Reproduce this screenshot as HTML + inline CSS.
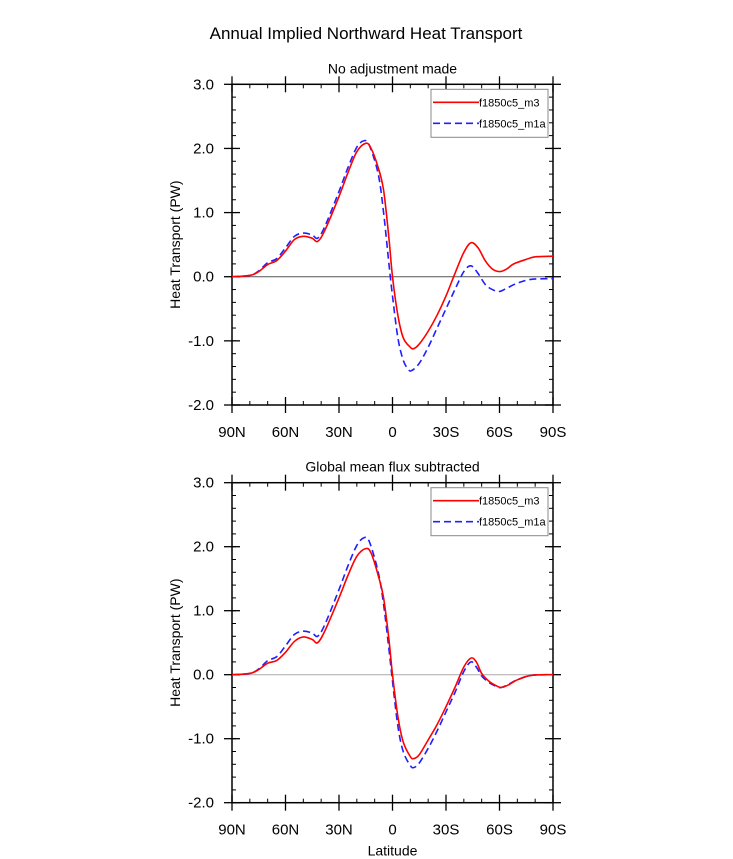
<!DOCTYPE html>
<html><head><meta charset="utf-8"><style>
html,body{margin:0;padding:0;background:#fff;}
svg{display:block;font-family:"Liberation Sans",Arial,sans-serif;}
</style></head><body>
<svg id="chart" width="733" height="859" viewBox="0 0 733 859" xmlns="http://www.w3.org/2000/svg">
<text x="366" y="39" font-size="17" text-anchor="middle">Annual Implied Northward Heat Transport</text>
</svg>
<script>
const lats1 = [90,80,75,70,65,60,55,50,45,42,38,30,25,20,15,12,8,5,2,0,-3,-6,-10,-12,-15,-20,-25,-30,-35,-40,-44,-48,-52,-56,-60,-64,-68,-75,-80,-90];
const red1 = [0,0.02,0.08,0.19,0.25,0.4,0.58,0.63,0.6,0.55,0.72,1.25,1.62,1.95,2.08,2.0,1.7,1.35,0.6,0.0,-0.6,-0.95,-1.1,-1.12,-1.05,-0.85,-0.6,-0.3,0.05,0.38,0.53,0.45,0.25,0.12,0.08,0.12,0.2,0.27,0.31,0.32];
const latsB1 = [90,80,75,70,65,60,55,50,45,42,38,30,25,20,16,13,8,5,2,0,-3,-6,-9,-11,-15,-20,-25,-30,-35,-40,-44,-48,-52,-56,-60,-64,-70,-78,-90];
const blue1 = [0,0.02,0.09,0.22,0.28,0.45,0.63,0.68,0.65,0.6,0.78,1.33,1.7,2.02,2.12,2.05,1.6,1.0,0.2,-0.3,-0.95,-1.3,-1.45,-1.46,-1.35,-1.1,-0.8,-0.5,-0.2,0.08,0.17,0.05,-0.12,-0.2,-0.23,-0.18,-0.1,-0.04,-0.03];
const lats2 = [90,80,75,70,65,60,55,50,45,42,38,30,25,20,15,12,8,5,2,0,-3,-6,-10,-12,-15,-20,-25,-30,-35,-40,-44,-47,-50,-54,-58,-61,-65,-70,-78,-90];
const red2 = [0,0.02,0.08,0.18,0.22,0.35,0.52,0.59,0.55,0.5,0.68,1.2,1.55,1.85,1.97,1.9,1.55,1.2,0.55,0,-0.65,-1.05,-1.28,-1.31,-1.25,-1.02,-0.78,-0.5,-0.2,0.12,0.26,0.2,0.02,-0.1,-0.17,-0.2,-0.16,-0.08,-0.01,0];
const latsB2 = [90,80,75,70,65,60,55,50,45,42,38,30,25,20,16,13,8,5,2,0,-3,-6,-10,-12,-15,-20,-25,-30,-35,-40,-44,-47,-50,-54,-58,-61,-65,-70,-78,-90];
const blue2 = [0,0.02,0.09,0.22,0.28,0.45,0.63,0.68,0.65,0.6,0.78,1.33,1.7,2.02,2.14,2.08,1.6,1.1,0.4,-0.1,-0.8,-1.2,-1.42,-1.45,-1.38,-1.15,-0.88,-0.58,-0.28,0.05,0.2,0.12,-0.02,-0.12,-0.18,-0.2,-0.15,-0.08,-0.01,0];
const xTickVals = [90,60,30,0,-30,-60,-90];
const xTickLabels = ["90N","60N","30N","0","30S","60S","90S"];
const yTickVals = [3,2,1,0,-1,-2];
const yTickLabels = ["3.0","2.0","1.0","0.0","-1.0","-2.0"];

const NS="http://www.w3.org/2000/svg";
const svg=document.getElementById('chart');
function mk(tag,attrs,parent){const e=document.createElementNS(NS,tag);for(const k in attrs)e.setAttribute(k,attrs[k]);(parent||svg).appendChild(e);return e;}

function smooth(pts){
  let d=`M${pts[0][0].toFixed(2)},${pts[0][1].toFixed(2)}`;
  for(let i=0;i<pts.length-1;i++){
    const p0=pts[Math.max(0,i-1)],p1=pts[i],p2=pts[i+1],p3=pts[Math.min(pts.length-1,i+2)];
    const c1=[p1[0]+(p2[0]-p0[0])/6,p1[1]+(p2[1]-p0[1])/6];
    const c2=[p2[0]-(p3[0]-p1[0])/6,p2[1]-(p3[1]-p1[1])/6];
    d+=`C${c1[0].toFixed(2)},${c1[1].toFixed(2)} ${c2[0].toFixed(2)},${c2[1].toFixed(2)} ${p2[0].toFixed(2)},${p2[1].toFixed(2)}`;
  }
  return d;
}

function panel(name,top,bottom,subtitle,zeroColor,rl,rv,bl,bv,showXTitle){
  const L=232,R=553;
  const g=mk('g',{});
  
  
  const xs=v=>L+(90-v)/180*(R-L);
  const ys=v=>top+(3-v)/5*(bottom-top);
  const st=mk('text',{x:(L+R)/2,y:top-11,'font-size':14,'text-anchor':'middle'},g);
  
  
  st.textContent=subtitle;
  const zl=mk('line',{x1:L,x2:R,y1:ys(0),y2:ys(0),stroke:zeroColor,'stroke-width':1},g);
  
  
  for(let v=-2;v<=3.001;v+=0.2){
    const y=ys(v);
    mk('line',{x1:L,x2:L+4,y1:y,y2:y,stroke:'#000','stroke-width':1},g);
    mk('line',{x1:R-4,x2:R,y1:y,y2:y,stroke:'#000','stroke-width':1},g);
  }
  for(let v=-90;v<=90;v+=10){
    const x=xs(v);
    mk('line',{x1:x,x2:x,y1:top,y2:top+4,stroke:'#000','stroke-width':1},g);
    mk('line',{x1:x,x2:x,y1:bottom-4,y2:bottom,stroke:'#000','stroke-width':1},g);
  }
  yTickVals.forEach((v,i)=>{
    const y=ys(v);
    mk('line',{x1:L-8,x2:L+8,y1:y,y2:y,stroke:'#000','stroke-width':1.3},g);
    mk('line',{x1:R-8,x2:R+8,y1:y,y2:y,stroke:'#000','stroke-width':1.3},g);
    const t=mk('text',{x:L-18,y:y+5,'font-size':15,'text-anchor':'end'},g);
    
    
    t.textContent=yTickLabels[i];
  });
  xTickVals.forEach((v,i)=>{
    const x=xs(v);
    mk('line',{x1:x,x2:x,y1:bottom-8,y2:bottom+8,stroke:'#000','stroke-width':1.3},g);
    mk('line',{x1:x,x2:x,y1:top-8,y2:top+8,stroke:'#000','stroke-width':1.3},g);
    const t=mk('text',{x:x,y:bottom+32,'font-size':15,'text-anchor':'middle'},g);
    
    
    t.textContent=xTickLabels[i];
  });
  const fr=mk('rect',{x:L,y:top,width:R-L,height:bottom-top,fill:'none',stroke:'#000','stroke-width':1.5},g);
  
  
  const yt=mk('text',{x:0,y:0,'font-size':14,'text-anchor':'middle',transform:`translate(180,${(top+bottom)/2}) rotate(-90)`},g);
  
  
  yt.textContent='Heat Transport (PW)';
  if(showXTitle){
    const xt=mk('text',{x:(L+R)/2,y:bottom+53,'font-size':14,'text-anchor':'middle'},g);
    
    
    xt.textContent='Latitude';
  }
  const pb=smooth(bl.map((la,i)=>[xs(la),ys(bv[i])]));
  const b=mk('path',{d:pb,fill:'none',stroke:'#1f1fff','stroke-width':1.6,'stroke-dasharray':'7,4'},g);
  
  
  const pr=smooth(rl.map((la,i)=>[xs(la),ys(rv[i])]));
  const r=mk('path',{d:pr,fill:'none',stroke:'#ff0000','stroke-width':1.6},g);
  
  
  const lg=mk('g',{},g);
  
  
  const ly=top+5;
  mk('rect',{x:431,y:ly,width:117,height:48,fill:'#fff',stroke:'#888','stroke-width':1},lg);
  mk('line',{x1:433,x2:479,y1:ly+13,y2:ly+13,stroke:'#ff0000','stroke-width':1.6},lg);
  const t1=mk('text',{x:479,y:ly+17,'font-size':11},lg);
  
  
  t1.textContent='f1850c5_m3';
  mk('line',{x1:433,x2:479,y1:ly+34,y2:ly+34,stroke:'#1f1fff','stroke-width':1.6,'stroke-dasharray':'7,4'},lg);
  const t2=mk('text',{x:479,y:ly+38,'font-size':11},lg);
  
  
  t2.textContent='f1850c5_m1a';
}
panel('panel-no-adjustment',84.3,405,'No adjustment made','#555',lats1,red1,latsB1,blue1,false);
panel('panel-global-mean-subtracted',482.7,802.7,'Global mean flux subtracted','#aaa',lats2,red2,latsB2,blue2,true);
</script>
</body></html>
